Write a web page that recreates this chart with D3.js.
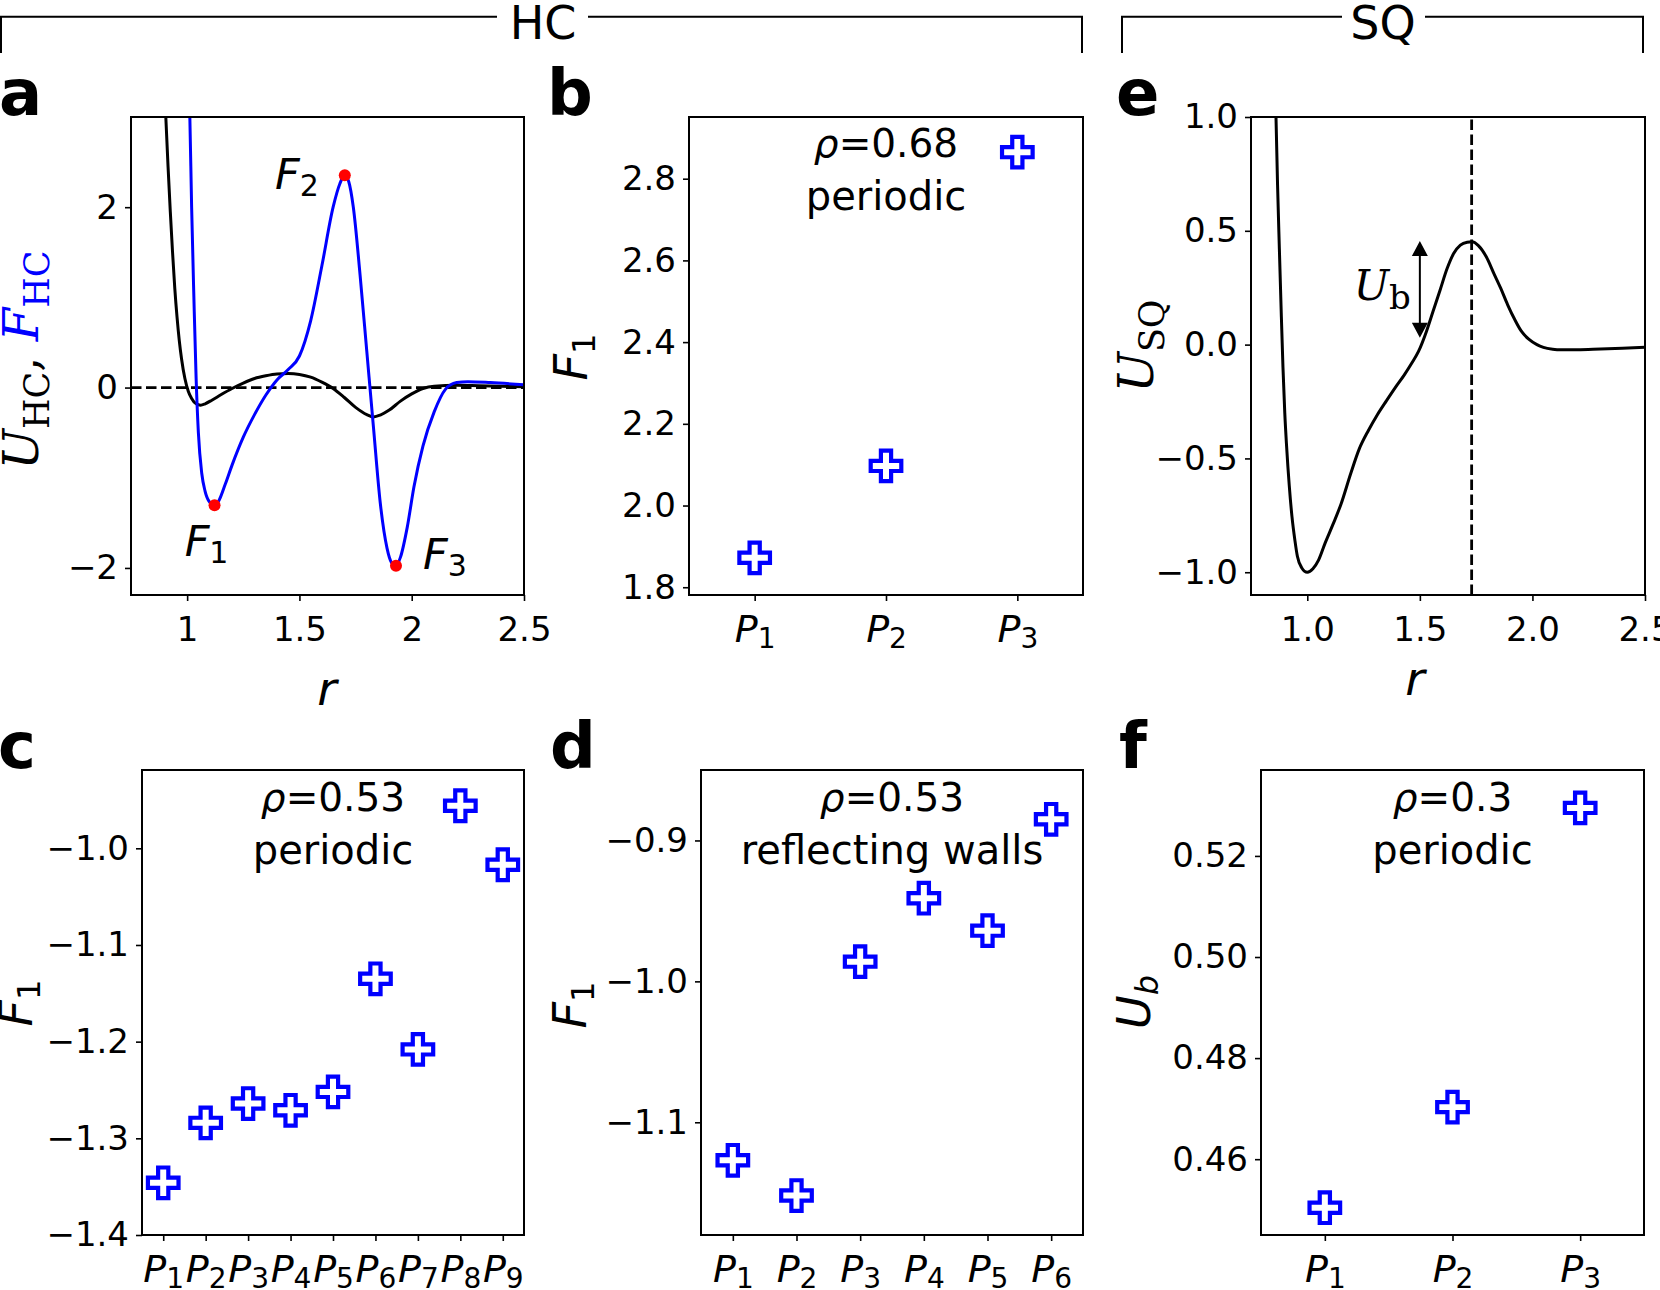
<!DOCTYPE html>
<html>
<head>
  <meta charset="utf-8">
  <script src="https://d3js.org/d3.v7.min.js"></script>
  <style>
    html, body { margin: 0; padding: 0; background: #fff; }
    svg { display: block; }
  </style>
</head>
<body>
  <div id="chart"></div>
  <script>
    // ---- data ----
    // panel a: HC potential (black) and force (blue)
    var uhcR = [0.895, 0.905, 0.915, 0.925, 0.935, 0.945, 0.955, 0.965, 0.975, 0.99, 1.005, 1.02, 1.04, 1.06, 1.08, 1.11, 1.15, 1.2, 1.25, 1.3, 1.35, 1.4, 1.45, 1.5, 1.55, 1.6, 1.65, 1.7, 1.75, 1.8, 1.83, 1.86, 1.9, 1.95, 2.0, 2.05, 2.1, 2.2, 2.3, 2.4, 2.5];
    var uhcV = [3.6, 3.0, 2.45, 1.95, 1.5, 1.1, 0.78, 0.52, 0.32, 0.1, -0.04, -0.12, -0.18, -0.195, -0.18, -0.14, -0.08, -0.01, 0.05, 0.1, 0.13, 0.15, 0.155, 0.145, 0.115, 0.06, -0.01, -0.11, -0.22, -0.3, -0.325, -0.305, -0.25, -0.15, -0.07, -0.01, 0.015, 0.025, 0.02, 0.015, 0.01];
    var fhcR = [1.005, 1.012, 1.02, 1.03, 1.04, 1.05, 1.065, 1.08, 1.1, 1.122, 1.14, 1.17, 1.2, 1.25, 1.3, 1.35, 1.4, 1.45, 1.5, 1.55, 1.6, 1.65, 1.68, 1.702, 1.72, 1.74, 1.77, 1.8, 1.83, 1.86, 1.89, 1.91, 1.93, 1.95, 1.98, 2.01, 2.05, 2.1, 2.15, 2.2, 2.25, 2.35, 2.5];
    var fhcV = [3.6, 3.0, 2.0, 1.0, 0.1, -0.5, -0.95, -1.15, -1.27, -1.306, -1.26, -1.07, -0.86, -0.55, -0.3, -0.085, 0.085, 0.2, 0.35, 0.74, 1.35, 2.0, 2.26, 2.353, 2.28, 2.0, 1.25, 0.4, -0.45, -1.28, -1.78, -1.94, -1.976, -1.88, -1.55, -1.1, -0.65, -0.27, -0.02, 0.055, 0.065, 0.055, 0.03];
    var extremaR = [1.122, 1.702, 1.93];
    var extremaV = [-1.306, 2.353, -1.976];
    var extremaLabels = ["1", "2", "3"];

    // panel e: SQ potential
    var usqR = [0.855, 0.861, 0.868, 0.876, 0.884, 0.892, 0.9, 0.908, 0.92, 0.932, 0.945, 0.956, 0.975, 1.0, 1.025, 1.05, 1.08, 1.114, 1.15, 1.193, 1.23, 1.272, 1.31, 1.352, 1.39, 1.431, 1.465, 1.494, 1.53, 1.558, 1.59, 1.621, 1.65, 1.68, 1.71, 1.732, 1.76, 1.795, 1.83, 1.859, 1.89, 1.922, 1.95, 1.985, 2.02, 2.049, 2.09, 2.128, 2.2, 2.302, 2.4, 2.5];
    var usqV = [1.2, 1.0, 0.7, 0.42, 0.15, -0.1, -0.3, -0.445, -0.62, -0.756, -0.86, -0.93, -0.98, -1.0, -0.985, -0.947, -0.87, -0.79, -0.7, -0.566, -0.46, -0.376, -0.31, -0.246, -0.19, -0.133, -0.08, -0.03, 0.06, 0.144, 0.24, 0.334, 0.4, 0.437, 0.45, 0.452, 0.435, 0.386, 0.31, 0.248, 0.175, 0.109, 0.06, 0.023, 0.0, -0.012, -0.02, -0.0225, -0.022, -0.019, -0.016, -0.012];
    var barrierR = 1.73;
    var ubArrowR = 1.5;
    var ubArrowV = [0.03, 0.455];

    // scatter panels
    var bVals = [1.872, 2.097, 2.865];
    var cVals = [-1.346, -1.284, -1.264, -1.271, -1.252, -1.135, -1.208, -0.956, -1.017];
    var dVals = [-1.127, -1.152, -0.986, -0.941, -0.964, -0.885];
    var fVals = [0.4504, 0.4703, 0.5295];

    var aXTicks = [1, 1.5, 2, 2.5], aYTicks = [-2, 0, 2];
    var eXTicks = [1.0, 1.5, 2.0, 2.5], eYTicks = [-1.0, -0.5, 0.0, 0.5, 1.0];
    var bYTicks = [1.8, 2.0, 2.2, 2.4, 2.6, 2.8];
    var cYTicks = [-1.4, -1.3, -1.2, -1.1, -1.0];
    var dYTicks = [-1.1, -1.0, -0.9];
    var fYTicks = [0.46, 0.48, 0.50, 0.52];

    var SANS = "DejaVu Sans", SERIF = "DejaVu Serif";
    var BLUE = "#0000ff";

    var svg = d3.select("#chart").append("svg")
      .attr("width", 1660).attr("height", 1290)
      .attr("font-family", SANS);

    // text with subscripts, parts = [{t, sub, italic, fill, family, size}]
    function addParts(text, parts, subShift) {
      var shifted = false;
      parts.forEach(function(p) {
        var ts = text.append("tspan").text(p.t);
        if (p.size) ts.attr("font-size", p.size);
        if (p.italic) ts.attr("font-style", "italic");
        if (p.fill) ts.attr("fill", p.fill);
        if (p.family) ts.attr("font-family", p.family);
        if (p.sub && !shifted) { ts.attr("dy", subShift); shifted = true; }
        else if (!p.sub && shifted) { ts.attr("dy", -subShift); shifted = false; }
      });
    }

    var clipId = 0;
    function makePanel(box, xDomain, yDomain) {
      var x = d3.scaleLinear().domain(xDomain).range([box.x0, box.x1]);
      var y = d3.scaleLinear().domain(yDomain).range([box.y1, box.y0]);
      var g = svg.append("g");
      var id = "clip" + (clipId++);
      svg.append("clipPath").attr("id", id).append("rect")
        .attr("x", box.x0).attr("y", box.y0)
        .attr("width", box.x1 - box.x0).attr("height", box.y1 - box.y0);
      var plot = g.append("g").attr("clip-path", "url(#" + id + ")");
      return { g: g, plot: plot, x: x, y: y, box: box };
    }

    function styleAxis(ax, size) {
      ax.select(".domain").remove();
      ax.selectAll(".tick line").attr("stroke-width", 1.6);
      ax.selectAll(".tick text").attr("font-size", size).attr("font-family", SANS).attr("fill", "#000");
    }

    function drawAxes(p, opt) {
      var yAx = p.g.append("g").attr("transform", "translate(" + p.box.x0 + ",0)")
        .call(d3.axisLeft(p.y).tickValues(opt.yTicks).tickFormat(d3.format(opt.yFmt)).tickSize(6).tickPadding(7));
      styleAxis(yAx, 34);
      var xAx = p.g.append("g").attr("transform", "translate(0," + p.box.y1 + ")");
      if (opt.cats) {
        xAx.call(d3.axisBottom(p.x).tickValues(d3.range(opt.cats)).tickFormat("").tickSize(6).tickPadding(14));
        styleAxis(xAx, 38);
        xAx.selectAll(".tick text").each(function(d) {
          addParts(d3.select(this), [{ t: "P", italic: true }, { t: String(d + 1), sub: true, size: 28 }], 6);
        });
      } else {
        xAx.call(d3.axisBottom(p.x).tickValues(opt.xTicks).tickFormat(d3.format(opt.xFmt)).tickSize(6).tickPadding(16));
        styleAxis(xAx, 34);
      }
      p.g.append("rect")
        .attr("x", p.box.x0).attr("y", p.box.y0)
        .attr("width", p.box.x1 - p.box.x0).attr("height", p.box.y1 - p.box.y0)
        .attr("fill", "none").attr("stroke", "#000").attr("stroke-width", 2);
    }

    function yLabel(p, bx, cy, parts, size, subShift, family) {
      var t = p.g.append("text")
        .attr("transform", "translate(" + bx + "," + cy + ") rotate(-90)")
        .attr("text-anchor", "middle").attr("font-size", size)
        .attr("font-family", family || SANS);
      addParts(t, parts, subShift);
    }

    function xLabel(p, cx, by) {
      p.g.append("text").attr("x", cx).attr("y", by)
        .attr("text-anchor", "middle").attr("font-size", 47)
        .attr("font-style", "italic").text("r");
    }

    function annot(p, lines, y1) {
      var cx = (p.box.x0 + p.box.x1) / 2;
      var t1 = p.g.append("text").attr("x", cx).attr("y", y1)
        .attr("text-anchor", "middle").attr("font-size", 39);
      t1.append("tspan").attr("font-style", "italic").text("ρ");
      t1.append("tspan").text(lines[0]);
      p.g.append("text").attr("x", cx).attr("y", y1 + 53)
        .attr("text-anchor", "middle").attr("font-size", 40).text(lines[1]);
    }

    function crosses(p, vals) {
      p.plot.selectAll("path.pt").data(vals).enter().append("path")
        .attr("class", "pt")
        .attr("transform", function(d, i) { return "translate(" + p.x(i) + "," + p.y(d) + ")"; })
        .attr("d", d3.symbol().type(d3.symbolCross).size(520))
        .attr("fill", "#fff").attr("stroke", BLUE).attr("stroke-width", 4.2);
    }

    function letter(s, x, y) {
      svg.append("text").attr("x", x).attr("y", y)
        .attr("font-size", 64).attr("font-weight", "bold").text(s);
    }

    // ---- header brackets ----
    function bracket(xl, xr, gl, gr, label, cx) {
      svg.append("path")
        .attr("d", "M" + xl + ",53V16.7H" + gl + "M" + gr + ",16.7H" + xr + "V53")
        .attr("fill", "none").attr("stroke", "#000").attr("stroke-width", 2);
      svg.append("text").attr("x", cx).attr("y", 39)
        .attr("text-anchor", "middle").attr("font-size", 46).text(label);
    }
    bracket(1, 1082, 497, 588, "HC", 543);
    bracket(1122, 1643, 1342, 1425, "SQ", 1383);

    // ---- panel a ----
    var pa = makePanel({ x0: 131, x1: 524, y0: 117, y1: 595 }, [0.75, 2.5], [-2.3, 3]);
    var lineA = d3.line().curve(d3.curveMonotoneX);
    pa.plot.append("path")
      .attr("d", lineA(uhcR.map(function(r, i) { return [pa.x(r), pa.y(uhcV[i])]; })))
      .attr("fill", "none").attr("stroke", "#000").attr("stroke-width", 3);
    pa.plot.append("line")
      .attr("x1", pa.x(0.75)).attr("x2", pa.x(2.5)).attr("y1", pa.y(0)).attr("y2", pa.y(0))
      .attr("stroke", "#000").attr("stroke-width", 2.8).attr("stroke-dasharray", "10.5,4.5");
    pa.plot.append("path")
      .attr("d", lineA(fhcR.map(function(r, i) { return [pa.x(r), pa.y(fhcV[i])]; })))
      .attr("fill", "none").attr("stroke", BLUE).attr("stroke-width", 3);
    pa.plot.selectAll("circle").data(extremaR).enter().append("circle")
      .attr("cx", function(d) { return pa.x(d); })
      .attr("cy", function(d, i) { return pa.y(extremaV[i]); })
      .attr("r", 6).attr("fill", "#ff0000");
    var labelOff = [[-8, 51, "middle"], [-26, 14, "end"], [27, 3, "start"]];
    extremaR.forEach(function(r, i) {
      var t = pa.g.append("text")
        .attr("x", pa.x(r) + labelOff[i][0]).attr("y", pa.y(extremaV[i]) + labelOff[i][1])
        .attr("text-anchor", labelOff[i][2]).attr("font-size", 43);
      addParts(t, [{ t: "F", italic: true }, { t: extremaLabels[i], sub: true, size: 30 }], 7);
    });
    drawAxes(pa, { yTicks: aYTicks, yFmt: "", xTicks: aXTicks, xFmt: "" });
    yLabel(pa, 38, 360, [
      { t: "U", italic: true }, { t: "HC", sub: true, size: 35 }, { t: ", " },
      { t: "F", italic: true, fill: BLUE }, { t: "HC", sub: true, size: 35, fill: BLUE }
    ], 48, 11, SERIF);
    xLabel(pa, 327, 705);

    // ---- panel b ----
    var pb = makePanel({ x0: 689, x1: 1083, y0: 117, y1: 595 }, [-0.5, 2.5], [1.781, 2.951]);
    crosses(pb, bVals);
    drawAxes(pb, { yTicks: bYTicks, yFmt: ".1f", cats: 3 });
    yLabel(pb, 587, 357, [{ t: "F", italic: true }, { t: "1", sub: true, size: 32 }], 46, 8);
    annot(pb, ["=0.68", "periodic"], 157);

    // ---- panel e ----
    var pe = makePanel({ x0: 1251, x1: 1645, y0: 117, y1: 595 }, [0.75, 2.5], [-1.1, 1.0]);
    pe.plot.append("path")
      .attr("d", lineA(usqR.map(function(r, i) { return [pe.x(r), pe.y(usqV[i])]; })))
      .attr("fill", "none").attr("stroke", "#000").attr("stroke-width", 3);
    pe.plot.append("line")
      .attr("x1", pe.x(barrierR)).attr("x2", pe.x(barrierR)).attr("y1", pe.y(-1.1)).attr("y2", pe.y(1.0))
      .attr("stroke", "#000").attr("stroke-width", 2.8).attr("stroke-dasharray", "10.5,4.5");
    var ax = pe.x(ubArrowR), ay0 = pe.y(ubArrowV[0]), ay1 = pe.y(ubArrowV[1]);
    pe.g.append("line").attr("x1", ax).attr("x2", ax).attr("y1", ay0 - 12).attr("y2", ay1 + 12)
      .attr("stroke", "#000").attr("stroke-width", 2);
    pe.g.append("path")
      .attr("d", "M" + ax + "," + ay1 + "l-8,15h16z M" + ax + "," + ay0 + "l-8,-15h16z")
      .attr("fill", "#000");
    var ubT = pe.g.append("text").attr("x", ax - 9).attr("y", (ay0 + ay1) / 2 + 11)
      .attr("text-anchor", "end").attr("font-size", 42).attr("font-family", SERIF);
    addParts(ubT, [{ t: "U", italic: true }, { t: "b", sub: true, size: 34 }], 9);
    drawAxes(pe, { yTicks: eYTicks, yFmt: ".1f", xTicks: eXTicks, xFmt: ".1f" });
    yLabel(pe, 1153, 346, [{ t: "U", italic: true }, { t: "SQ", sub: true, size: 35 }], 48, 11, SERIF);
    xLabel(pe, 1415, 695);

    // ---- panel c ----
    var pc = makePanel({ x0: 142, x1: 524, y0: 770, y1: 1235 }, [-0.5, 8.5], [-1.4, -0.919]);
    crosses(pc, cVals);
    drawAxes(pc, { yTicks: cYTicks, yFmt: ".1f", cats: 9 });
    yLabel(pc, 32, 1003, [{ t: "F", italic: true }, { t: "1", sub: true, size: 32 }], 46, 8);
    annot(pc, ["=0.53", "periodic"], 811);

    // ---- panel d ----
    var pd = makePanel({ x0: 701, x1: 1083, y0: 770, y1: 1235 }, [-0.5, 5.5], [-1.18, -0.85]);
    crosses(pd, dVals);
    drawAxes(pd, { yTicks: dYTicks, yFmt: ".1f", cats: 6 });
    yLabel(pd, 586, 1005, [{ t: "F", italic: true }, { t: "1", sub: true, size: 32 }], 46, 8);
    annot(pd, ["=0.53", "reflecting walls"], 811);

    // ---- panel f ----
    var pf = makePanel({ x0: 1261, x1: 1644, y0: 770, y1: 1235 }, [-0.5, 2.5], [0.445, 0.537]);
    crosses(pf, fVals);
    drawAxes(pf, { yTicks: fYTicks, yFmt: ".2f", cats: 3 });
    yLabel(pf, 1150, 1002, [{ t: "U", italic: true }, { t: "b", sub: true, size: 32, italic: true }], 46, 8);
    annot(pf, ["=0.3", "periodic"], 811);

    // panel letters
    letter("a", -1, 115);
    letter("b", 547, 115);
    letter("e", 1116, 115);
    letter("c", -2, 768);
    letter("d", 550, 768);
    letter("f", 1119, 768);
  </script>
</body>
</html>
